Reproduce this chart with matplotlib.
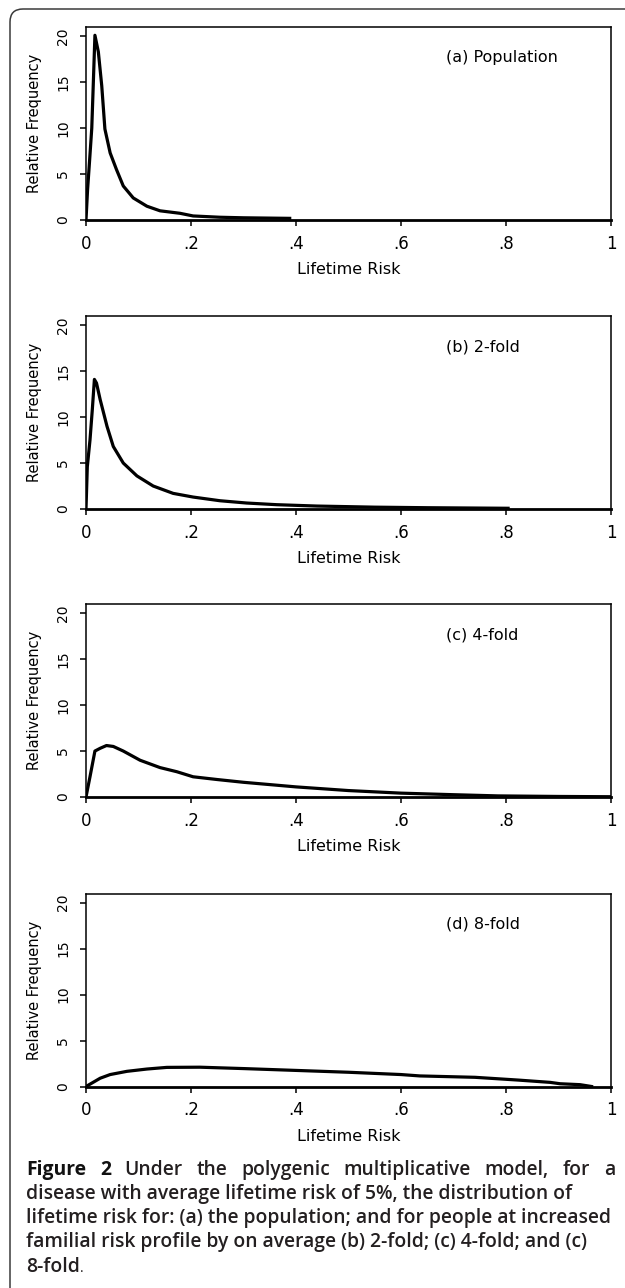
import matplotlib.pyplot as plt
from matplotlib.patches import FancyBboxPatch

# lifetime risk (x) and relative frequency (y)
risk_a = [0, 0.003, 0.007, 0.011, 0.014, 0.017, 0.0235, 0.030, 0.036, 0.046, 0.058,
          0.071, 0.090, 0.116, 0.141, 0.179, 0.204, 0.255, 0.30, 0.388]
freq_a = [0, 3.3, 6.6, 10.0, 15.0, 20.1, 18.3, 14.6, 9.9, 7.3, 5.5,
          3.7, 2.4, 1.5, 1.0, 0.73, 0.44, 0.30, 0.24, 0.18]

risk_b = [0, 0.0025, 0.0076, 0.012, 0.016, 0.020, 0.027, 0.040, 0.052, 0.071, 0.097,
          0.128, 0.166, 0.204, 0.255, 0.306, 0.363, 0.44, 0.55, 0.65, 0.804]
freq_b = [0, 4.6, 7.5, 10.8, 14.1, 13.7, 11.9, 9.0, 6.8, 5.0, 3.6,
          2.5, 1.7, 1.3, 0.9, 0.65, 0.47, 0.32, 0.2, 0.14, 0.08]

risk_c = [0, 0.0076, 0.017, 0.027, 0.039, 0.052, 0.071, 0.103, 0.141, 0.173, 0.204,
          0.25, 0.30, 0.35, 0.40, 0.50, 0.60, 0.70, 0.785, 0.90, 1.0]
freq_c = [0, 2.2, 5.0, 5.3, 5.6, 5.5, 5.0, 4.0, 3.2, 2.75, 2.2,
          1.9, 1.6, 1.35, 1.1, 0.7, 0.42, 0.25, 0.12, 0.06, 0.03]

risk_d = [0, 0.027, 0.046, 0.078, 0.116, 0.154, 0.217, 0.30, 0.40, 0.50, 0.60,
          0.636, 0.741, 0.823, 0.884, 0.903, 0.941, 0.963]
freq_d = [0, 0.9, 1.3, 1.65, 1.9, 2.08, 2.1, 1.95, 1.75, 1.55, 1.3,
          1.15, 1.0, 0.7, 0.45, 0.3, 0.2, 0.0]

labels = ['(a) Population', '(b) 2-fold', '(c) 4-fold', '(d) 8-fold']
xticks = [0, 0.2, 0.4, 0.6, 0.8, 1]
xticklabels = ['0', '.2', '.4', '.6', '.8', '1']
yticks = [0, 5, 10, 15, 20]

caption_first = ['Under', 'the', 'polygenic', 'multiplicative', 'model,', 'for', 'a']
caption_rest = ['disease with average lifetime risk of 5%, the distribution of',
                'lifetime risk for: (a) the population; and for people at increased',
                'familial risk profile by on average (b) 2-fold; (c) 4-fold; and (c)',
                '8-fold']

W, H = 625, 1288
fig = plt.figure(figsize=(W / 100, H / 100), dpi=100)

# rounded frame around the whole figure (runs off the right and bottom edges)
frame = FancyBboxPatch((10 / 100, -0.5), 7.0, (H - 9) / 100 + 0.5,
                       boxstyle='round,pad=0,rounding_size=0.13',
                       transform=fig.dpi_scale_trans, fill=False,
                       edgecolor='#3a3a3a', linewidth=1.1)
fig.patches.append(frame)

series = [(risk_a, freq_a), (risk_b, freq_b), (risk_c, freq_c), (risk_d, freq_d)]
bottoms_px = [220, 509, 797, 1086.5]
ax_h = 193

for (xs, ys), lab, bpx in zip(series, labels, bottoms_px):
    ax = fig.add_axes([86 / W, 1 - bpx / H, 525 / W, ax_h / H])
    ax.plot(xs, ys, color='black', lw=2.3, solid_joinstyle='round')
    ax.set_xlim(0, 1)
    ax.set_ylim(0, 21)
    ax.set_xticks(xticks)
    ax.set_xticklabels(xticklabels, fontsize=12)
    ax.set_yticks(yticks)
    ax.set_yticklabels([str(v) for v in yticks], fontsize=10, rotation=90, va='center')
    ax.tick_params(direction='out', length=4.5, width=1.1, color='black')
    ax.tick_params(axis='x', pad=6)
    ax.tick_params(axis='y', pad=7)
    for s in ax.spines.values():
        s.set_linewidth(1.1)
    ax.spines['bottom'].set_linewidth(2.0)
    ax.set_xlabel('Lifetime Risk', fontsize=11.5, labelpad=7)
    ax.set_ylabel('Relative Frequency', fontsize=10.5, labelpad=10)
    ax.text(0.685, 0.84, lab, transform=ax.transAxes, fontsize=11.5, va='center', ha='left')

# caption
cap_font = 'Open Sans'
cap_size = 13.9
baselines = [1175, 1198.5, 1222.5, 1247, 1272]
left_px, right_px = 26, 615

fig.canvas.draw()
r = fig.canvas.get_renderer()

# first line justified between left and right edges
words = [('Figure', 'bold', '#111111'), ('2', 'bold', '#111111')] + \
        [(w, 'semibold', '#231f20') for w in caption_first]
objs = []
for w, wt, col in words:
    t = fig.text(0, 1 - baselines[0] / H, w, fontsize=cap_size, family=cap_font,
                 fontweight=wt, color=col, va='baseline', ha='left')
    objs.append(t)
widths = [t.get_window_extent(r).width for t in objs]
gap = (right_px - left_px - sum(widths)) / (len(objs) - 1)
x = left_px
for t, w in zip(objs, widths):
    t.set_x(x / W)
    x += w + gap

for line, b in zip(caption_rest, baselines[1:]):
    fig.text(left_px / W, 1 - b / H, line, fontsize=cap_size, family=cap_font,
             fontweight='semibold', color='#231f20', va='baseline', ha='left')
t8 = fig.text(left_px / W, 1 - baselines[4] / H, '8-fold', fontsize=cap_size,
              family=cap_font, fontweight='semibold', color='#231f20', alpha=0)
fig.text((left_px + t8.get_window_extent(r).width) / W, 1 - baselines[4] / H, '.',
         fontsize=10, family=cap_font, color='#231f20', va='baseline', ha='left')

fig.savefig('out.png', dpi=100)
